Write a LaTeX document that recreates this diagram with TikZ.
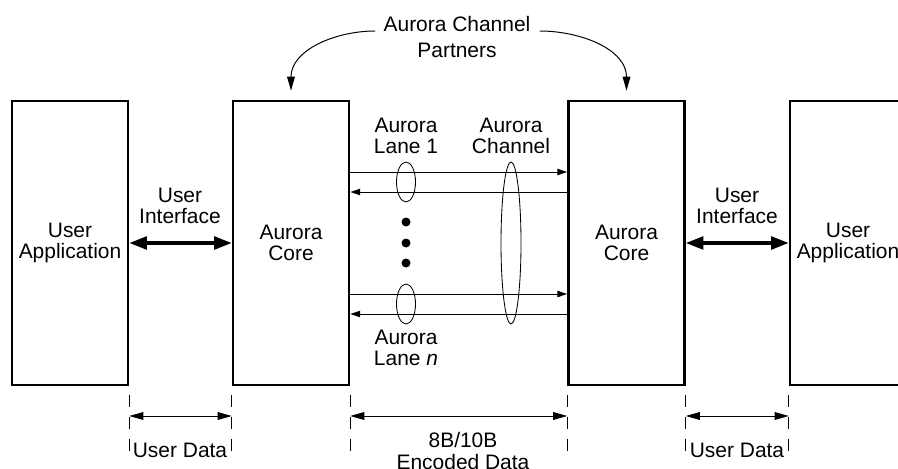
\documentclass[tikz,border=0pt]{standalone}
\usepackage{fontspec}
\setmainfont{Liberation Sans}
\usetikzlibrary{
  arrows.meta,
  positioning,
  calc
}

\begin{document}
\begin{tikzpicture}[x=0.025cm, y=0.025cm,
  font=\fontsize{14.9}{15.1}\selectfont,
  blockbox/.style={draw, line width=1.8pt, minimum width=2.9cm, minimum height=7.1cm,
                   align=center, inner sep=0pt},
  txt/.style={align=center, inner sep=0pt},
  bigarrow/.style={{Triangle[length=12.5pt, width=9pt]}-{Triangle[length=12.5pt, width=9pt]},
                   line width=2.4pt},
  lanearrow/.style={-{Triangle[length=7pt, width=4.5pt]}, line width=0.7pt},
  dimarrow/.style={{Triangle[length=10pt, width=5.5pt]}-{Triangle[length=10pt, width=5.5pt]},
                   line width=0.7pt},
  dimtick/.style={dash pattern=on 8.5pt off 7pt, line width=0.7pt},
  curvearrow/.style={-{Triangle[length=10pt, width=5.5pt]}, line width=0.7pt},
  ring/.style={line width=0.6pt}]
\useasboundingbox (0,0) rectangle (898,468);

% the four blocks
\node[blockbox] (leftapp)   at (70,225)    {User\\Application};
\node[blockbox] (leftcore)  at (291,225)   {Aurora\\Core};
\node[blockbox] (rightcore) at (626.5,225) {Aurora\\Core};
\node[blockbox] (rightapp)  at (848,225)   {User\\Application};

% user interfaces
\node[txt] (uileft)  at (180,262) {User\\Interface};
\node[txt] (uiright) at (737,262) {User\\Interface};
\draw[bigarrow] (leftapp) -- (leftcore);
\draw[bigarrow] (rightcore) -- (rightapp);

% lanes
\foreach \y in {286,164} {
  \draw[lanearrow] (leftcore.east |- 0,\y+10) -- (rightcore.west |- 0,\y+10);
  \draw[lanearrow] (rightcore.west |- 0,\y-10) -- (leftcore.east |- 0,\y-10);
  \draw[ring] (406,\y) ellipse [x radius=9.5, y radius=20];
}
\foreach \y in {246,225,205}
  \fill (406,\y) circle [radius=4.5];
\draw[ring] (511,225) ellipse [x radius=10, y radius=81];

\node[txt] (lane1)   at (406,332) {Aurora\\Lane 1};
\node[txt] (channel) at (511,332) {Aurora\\Channel};
\node[txt] (lanen)   at (406,120) {Aurora\\Lane \textit{n}};

% channel partners
\node[txt] (partners) at (457,431) {Aurora Channel\\[4pt]Partners};
\draw[curvearrow] ($(partners.west)+(-8,6)$) to[out=180, in=90] ($(leftcore.north)+(0,9)$);
\draw[curvearrow] ($(partners.east)+(9,6)$) to[out=0, in=90] ($(rightcore.north)+(0,9)$);

% dimensions
\foreach \n/\a in {leftapp/east, leftcore/west, leftcore/east,
                   rightcore/west, rightcore/east, rightapp/west}
  \draw[dimtick] (\n.\a |- 0,73) -- (\n.\a |- 0,8);
\draw[dimarrow] (leftapp.east |- 0,52) -- (leftcore.west |- 0,52);
\draw[dimarrow] (leftcore.east |- 0,52) -- (rightcore.west |- 0,52);
\draw[dimarrow] (rightcore.east |- 0,52) -- (rightapp.west |- 0,52);

\node[txt] (udleft)  at (180,18) {User Data};
\node[txt] (encoded) at (463,17) {8B/10B\\Encoded Data};
\node[txt] (udright) at (737,18) {User Data};
\end{tikzpicture}
\end{document}
